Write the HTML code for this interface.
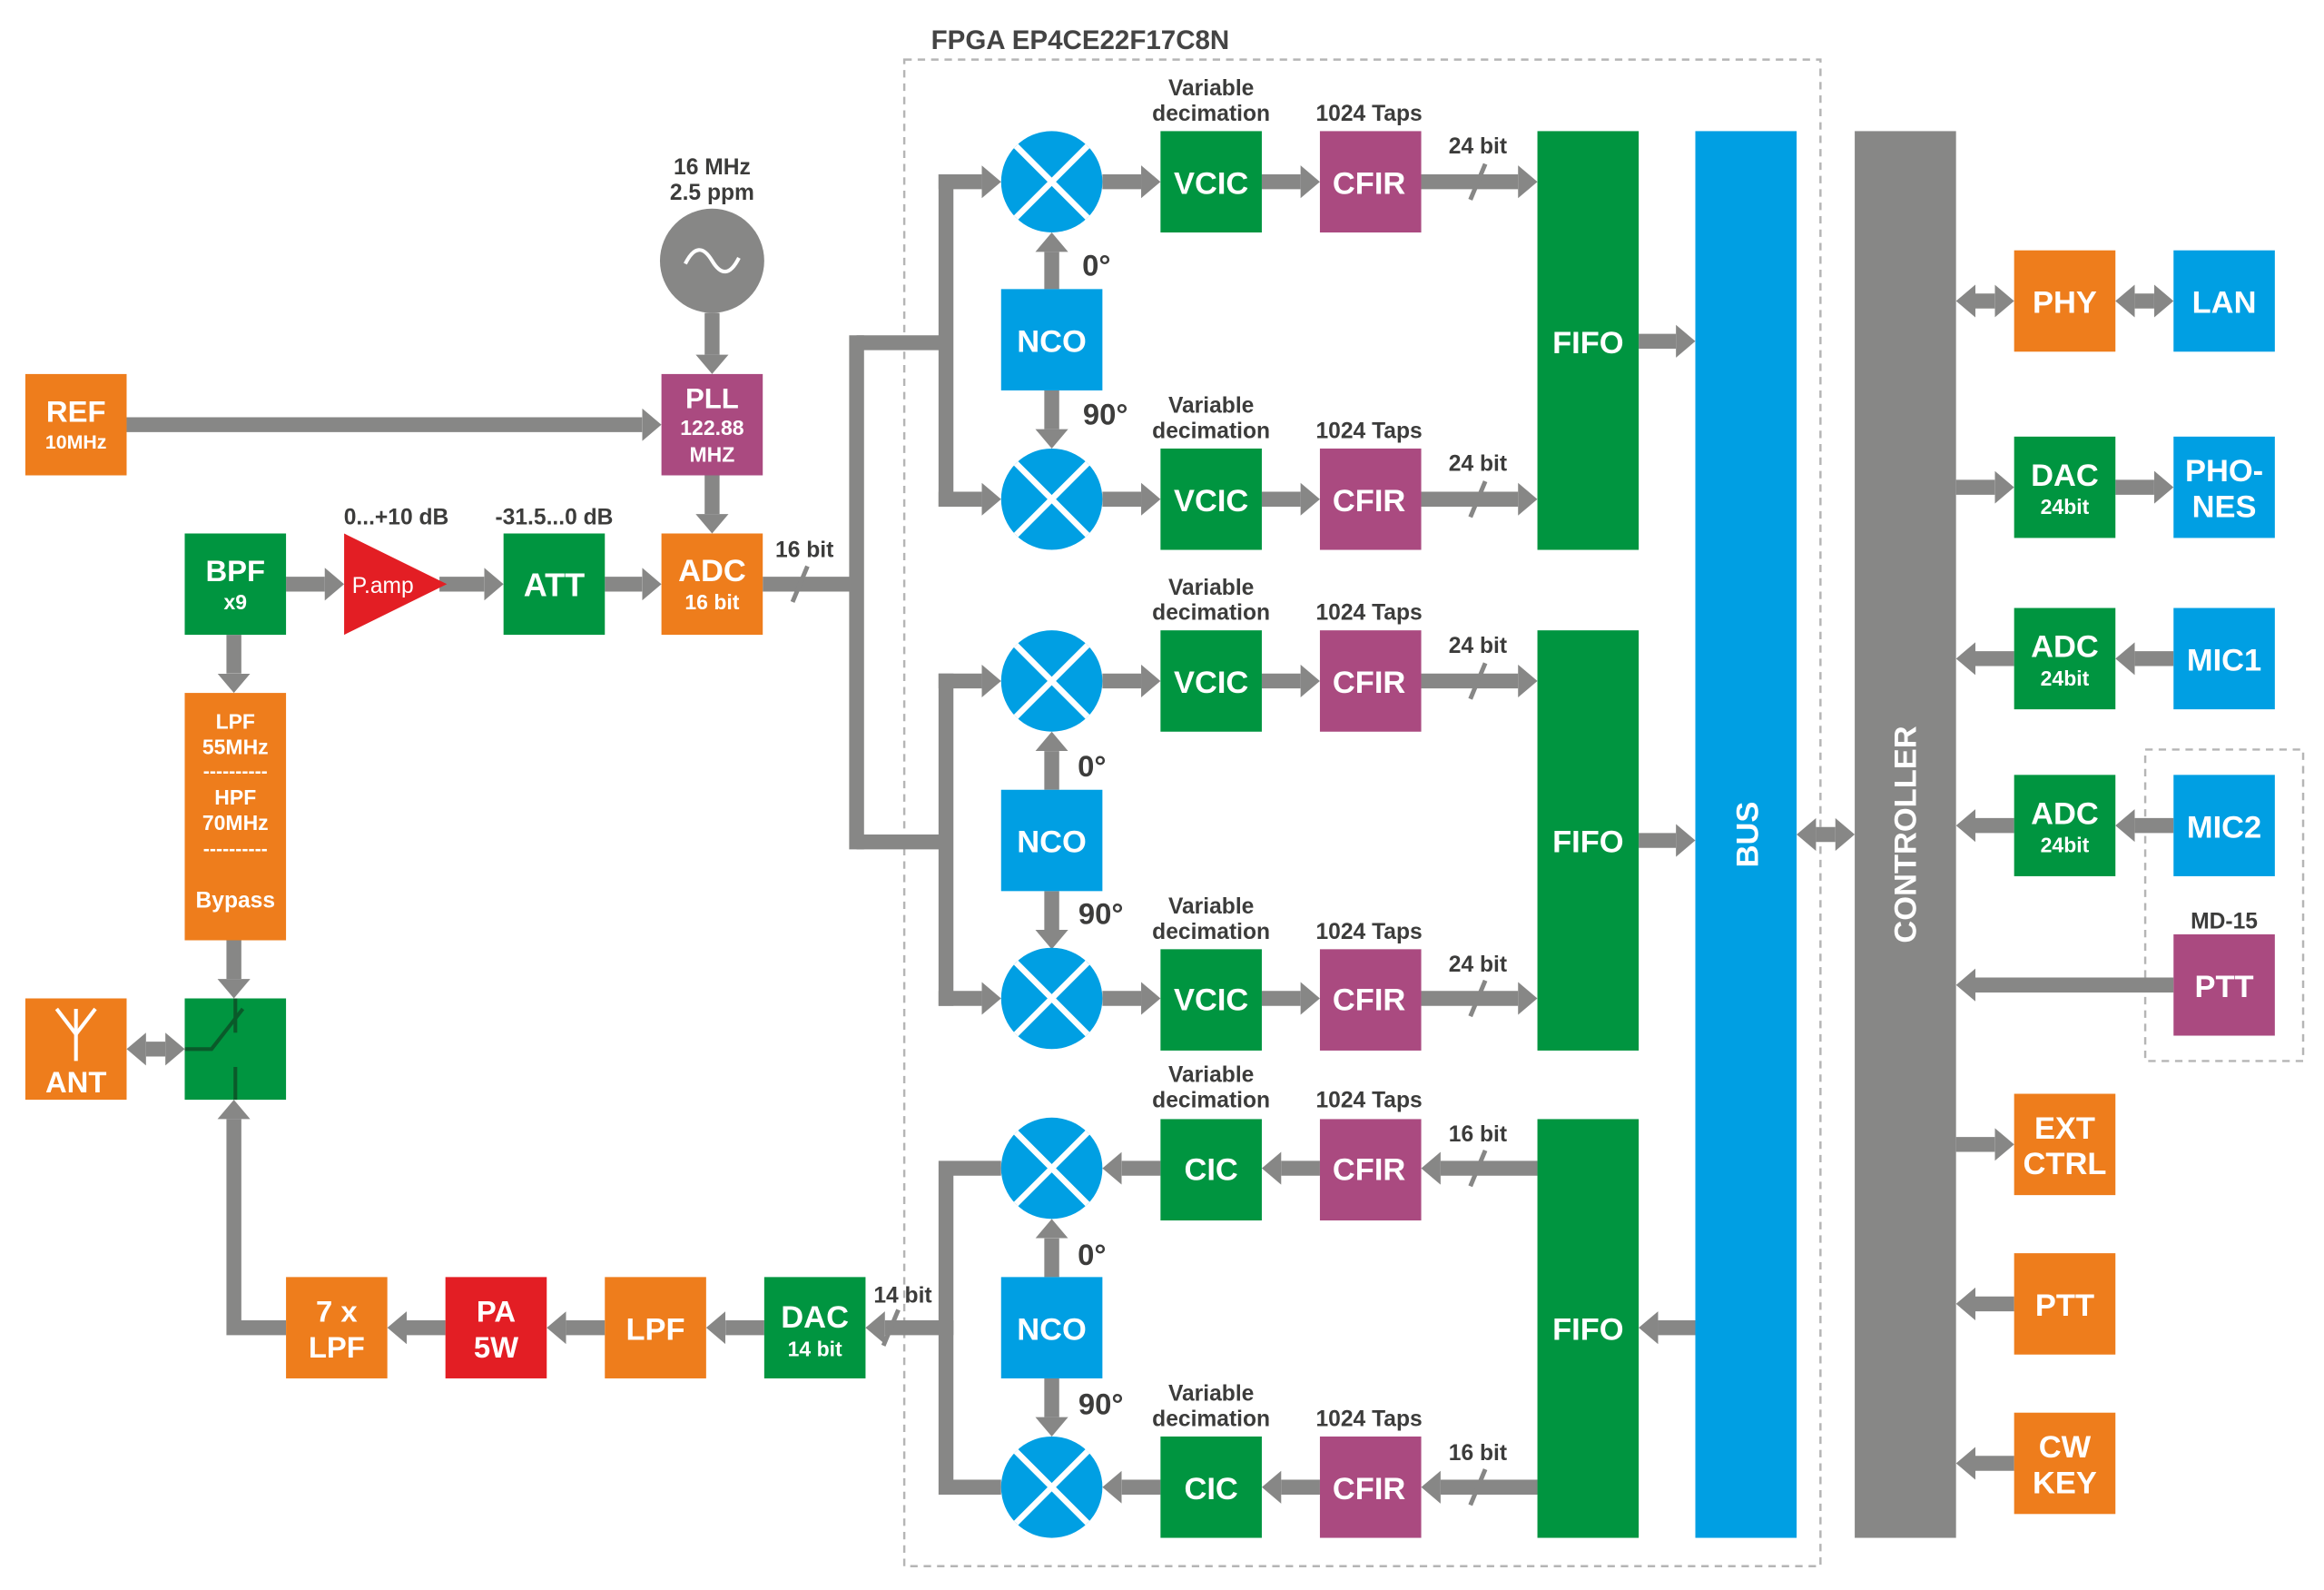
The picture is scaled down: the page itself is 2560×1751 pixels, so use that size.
<!DOCTYPE html>
<html><head><meta charset="utf-8"><style>html,body{margin:0;padding:0;background:#fff}svg{display:block}</style></head>
<body>
<svg width="2560" height="1751" viewBox="0 0 1560 1067" preserveAspectRatio="none" xmlns="http://www.w3.org/2000/svg" font-family="Liberation Sans, Arial, sans-serif" font-weight="bold">
<defs>
<marker id="a" markerWidth="13" markerHeight="22" refX="0" refY="11" orient="auto-start-reverse" markerUnits="userSpaceOnUse"><path d="M0,0L13,11L0,22z" fill="#878786"/></marker>
<g id="mix"><circle r="34" fill="#009FE3"/><path d="M-24,-24L24,24M24,-24L-24,24" stroke="#fff" stroke-width="4"/></g>
</defs>
<rect width="1560" height="1067" fill="#fff"/>
<!-- FPGA box -->
<rect x="607" y="40" width="615" height="1011" fill="none" stroke="#b5b5b5" stroke-width="1.5" stroke-dasharray="5,4"/>
<text x="625" y="33" font-size="18" fill="#444">FPGA EP4CE22F17C8N</text>
<rect x="1440" y="503" width="106" height="209" fill="none" stroke="#b5b5b5" stroke-width="1.5" stroke-dasharray="5,4"/>

<!-- connectors -->
<g stroke="#878786" stroke-width="10" fill="none" marker-end="url(#a)">
<line x1="478" y1="210" x2="478" y2="238"/>
<line x1="85" y1="285" x2="431" y2="285"/>
<line x1="478" y1="319" x2="478" y2="345"/>
<line x1="192" y1="392" x2="218" y2="392"/>
<line x1="295" y1="392" x2="325" y2="392"/>
<line x1="406" y1="392" x2="431" y2="392"/>
<line x1="630" y1="122" x2="659" y2="122"/>
<line x1="630" y1="335" x2="659" y2="335"/>
<line x1="630" y1="457" x2="659" y2="457"/>
<line x1="630" y1="670" x2="659" y2="670"/>
<line x1="740" y1="122" x2="766" y2="122"/><line x1="847" y1="122" x2="873" y2="122"/><line x1="954" y1="122" x2="1019" y2="122"/>
<line x1="740" y1="335" x2="766" y2="335"/><line x1="847" y1="335" x2="873" y2="335"/><line x1="954" y1="335" x2="1019" y2="335"/>
<line x1="740" y1="457" x2="766" y2="457"/><line x1="847" y1="457" x2="873" y2="457"/><line x1="954" y1="457" x2="1019" y2="457"/>
<line x1="740" y1="670" x2="766" y2="670"/><line x1="847" y1="670" x2="873" y2="670"/><line x1="954" y1="670" x2="1019" y2="670"/>
<line x1="1032" y1="784" x2="967" y2="784"/><line x1="886" y1="784" x2="860" y2="784"/><line x1="779" y1="784" x2="753" y2="784"/>
<line x1="1032" y1="998" x2="967" y2="998"/><line x1="886" y1="998" x2="860" y2="998"/><line x1="779" y1="998" x2="753" y2="998"/>
<line x1="706" y1="194" x2="706" y2="169"/><line x1="706" y1="262" x2="706" y2="288"/>
<line x1="706" y1="530" x2="706" y2="504"/><line x1="706" y1="598" x2="706" y2="624"/>
<line x1="706" y1="857" x2="706" y2="831"/><line x1="706" y1="925" x2="706" y2="951"/>
<line x1="640" y1="891" x2="594" y2="891"/>
<line x1="513" y1="891" x2="487" y2="891"/>
<line x1="406" y1="891" x2="380" y2="891"/>
<line x1="299" y1="891" x2="273" y2="891"/>
<polyline points="192,891 157,891 157,751"/>
<line x1="157" y1="426" x2="157" y2="452"/>
<line x1="157" y1="631" x2="157" y2="657"/>
<line x1="98" y1="704" x2="111" y2="704" marker-start="url(#a)"/>
<line x1="1100" y1="229" x2="1125" y2="229"/>
<line x1="1100" y1="564" x2="1125" y2="564"/>
<line x1="1138" y1="891" x2="1113" y2="891"/>
<line x1="1219" y1="560" x2="1232" y2="560" marker-start="url(#a)"/>
<line x1="1326" y1="202" x2="1339" y2="202" marker-start="url(#a)"/>
<line x1="1433" y1="202" x2="1446" y2="202" marker-start="url(#a)"/>
<line x1="1313" y1="327" x2="1339" y2="327"/><line x1="1420" y1="327" x2="1446" y2="327"/>
<line x1="1459" y1="442" x2="1433" y2="442"/><line x1="1352" y1="442" x2="1326" y2="442"/>
<line x1="1459" y1="554" x2="1433" y2="554"/><line x1="1352" y1="554" x2="1326" y2="554"/>
<line x1="1459" y1="661" x2="1326" y2="661"/>
<line x1="1313" y1="768" x2="1339" y2="768"/>
<line x1="1352" y1="875" x2="1326" y2="875"/>
<line x1="1352" y1="982" x2="1326" y2="982"/>
</g>
<g stroke="#878786" stroke-width="10" fill="none">
<line x1="512" y1="392" x2="575" y2="392"/>
<line x1="575" y1="225" x2="575" y2="570"/>
<line x1="575" y1="230" x2="635" y2="230"/><line x1="575" y1="565" x2="635" y2="565"/>
<line x1="635" y1="117" x2="635" y2="340"/><line x1="635" y1="452" x2="635" y2="675"/>
<polyline points="672,784 635,784 635,998 672,998"/>
</g>
<!-- slashes -->
<g stroke="#878786" stroke-width="3">
<line x1="532" y1="404" x2="542" y2="380"/>
<line x1="987" y1="134" x2="997" y2="110"/><line x1="987" y1="347" x2="997" y2="323"/>
<line x1="987" y1="469" x2="997" y2="445"/><line x1="987" y1="682" x2="997" y2="658"/>
<line x1="987" y1="796" x2="997" y2="772"/><line x1="987" y1="1010" x2="997" y2="986"/>
<line x1="593" y1="903" x2="603" y2="879"/>
</g>

<!-- oscillator -->
<circle cx="478" cy="175" r="35" fill="#878786"/>
<path d="M460,177 C466,165 472,165 478,175 C484,185 490,185 496,173" stroke="#fff" stroke-width="2.5" fill="none"/>

<!-- boxes -->
<g>
<rect x="17" y="251" width="68" height="68" fill="#EE7D1C"/>
<rect x="444" y="251" width="68" height="68" fill="#AA4A80"/>
<rect x="124" y="358" width="68" height="68" fill="#009540"/>
<polygon points="231,358 231,426 300,392" fill="#E31E24"/>
<rect x="338" y="358" width="68" height="68" fill="#009540"/>
<rect x="444" y="358" width="68" height="68" fill="#EE7D1C"/>
<rect x="124" y="465" width="68" height="166" fill="#EE7D1C"/>
<rect x="124" y="670" width="68" height="68" fill="#009540"/>
<rect x="17" y="670" width="68" height="68" fill="#EE7D1C"/>
<rect x="192" y="857" width="68" height="68" fill="#EE7D1C"/>
<rect x="299" y="857" width="68" height="68" fill="#E31E24"/>
<rect x="406" y="857" width="68" height="68" fill="#EE7D1C"/>
<rect x="513" y="857" width="68" height="68" fill="#009540"/>
<rect x="672" y="194" width="68" height="68" fill="#009FE3"/>
<rect x="672" y="530" width="68" height="68" fill="#009FE3"/>
<rect x="672" y="857" width="68" height="68" fill="#009FE3"/>
<g fill="#009540"><rect x="779" y="88" width="68" height="68"/><rect x="779" y="301" width="68" height="68"/><rect x="779" y="423" width="68" height="68"/><rect x="779" y="637" width="68" height="68"/><rect x="779" y="751" width="68" height="68"/><rect x="779" y="964" width="68" height="68"/></g>
<g fill="#AA4A80"><rect x="886" y="88" width="68" height="68"/><rect x="886" y="301" width="68" height="68"/><rect x="886" y="423" width="68" height="68"/><rect x="886" y="637" width="68" height="68"/><rect x="886" y="751" width="68" height="68"/><rect x="886" y="964" width="68" height="68"/></g>
<g fill="#009540"><rect x="1032" y="88" width="68" height="281"/><rect x="1032" y="423" width="68" height="282"/><rect x="1032" y="751" width="68" height="281"/></g>
<rect x="1138" y="88" width="68" height="944" fill="#009FE3"/>
<rect x="1245" y="88" width="68" height="944" fill="#878786"/>
<rect x="1352" y="168" width="68" height="68" fill="#EE7D1C"/>
<rect x="1459" y="168" width="68" height="68" fill="#009FE3"/>
<rect x="1352" y="293" width="68" height="68" fill="#009540"/>
<rect x="1459" y="293" width="68" height="68" fill="#009FE3"/>
<rect x="1352" y="408" width="68" height="68" fill="#009540"/>
<rect x="1459" y="408" width="68" height="68" fill="#009FE3"/>
<rect x="1352" y="520" width="68" height="68" fill="#009540"/>
<rect x="1459" y="520" width="68" height="68" fill="#009FE3"/>
<rect x="1459" y="627" width="68" height="68" fill="#AA4A80"/>
<rect x="1352" y="734" width="68" height="68" fill="#EE7D1C"/>
<rect x="1352" y="841" width="68" height="68" fill="#EE7D1C"/>
<rect x="1352" y="948" width="68" height="68" fill="#EE7D1C"/>
</g>
<!-- mixers -->
<use href="#mix" x="706" y="122"/><use href="#mix" x="706" y="335"/><use href="#mix" x="706" y="457"/>
<use href="#mix" x="706" y="670"/><use href="#mix" x="706" y="784"/><use href="#mix" x="706" y="998"/>
<!-- switch -->
<g stroke="#0a5a2a" stroke-width="2.5" fill="none"><polyline points="124,704 142,704 163,677"/><line x1="158" y1="670" x2="158" y2="693"/><line x1="158" y1="716" x2="158" y2="738"/></g>
<!-- antenna -->
<g stroke="#fff" stroke-width="2.5" fill="none"><line x1="51" y1="677" x2="51" y2="712"/><line x1="51" y1="694" x2="38" y2="677"/><line x1="51" y1="694" x2="64" y2="677"/></g>

<!-- white labels -->
<g fill="#fff" text-anchor="middle">
<text x="51" y="283" font-size="20">REF</text><text x="51" y="301" font-size="13">10MHz</text>
<text x="478" y="274" font-size="19">PLL</text><text x="478" y="292" font-size="14">122.88</text><text x="478" y="310" font-size="14">MHZ</text>
<text x="158" y="390" font-size="20">BPF</text><text x="158" y="409" font-size="14">x9</text>
<text x="257" y="398" font-size="15" font-weight="normal" text-anchor="middle">P.amp</text>
<text x="372" y="400" font-size="22">ATT</text>
<text x="478" y="390" font-size="21">ADC</text><text x="478" y="409" font-size="14">16 bit</text>
<text x="158" y="489" font-size="14">LPF</text><text x="158" y="506" font-size="14">55MHz</text>
<text x="158" y="522" font-size="13">----------</text>
<text x="158" y="540" font-size="14">HPF</text><text x="158" y="557" font-size="14">70MHz</text>
<text x="158" y="574" font-size="13">----------</text>
<text x="158" y="609" font-size="15">Bypass</text>
<text x="51" y="733" font-size="20">ANT</text>
<text x="226" y="887" font-size="20">7 x</text><text x="226" y="911" font-size="20">LPF</text>
<text x="333" y="887" font-size="20">PA</text><text x="333" y="911" font-size="20">5W</text>
<text x="440" y="899" font-size="21">LPF</text>
<text x="547" y="891" font-size="21">DAC</text><text x="547" y="910" font-size="14">14 bit</text>
<g font-size="21"><text x="706" y="236">NCO</text><text x="706" y="572">NCO</text><text x="706" y="899">NCO</text>
<text x="813" y="130">VCIC</text><text x="813" y="343">VCIC</text><text x="813" y="465">VCIC</text><text x="813" y="678">VCIC</text><text x="813" y="792">CIC</text><text x="813" y="1006">CIC</text>
<text x="919" y="130">CFIR</text><text x="919" y="343">CFIR</text><text x="919" y="465">CFIR</text><text x="919" y="678">CFIR</text><text x="919" y="792">CFIR</text><text x="919" y="1006">CFIR</text>
<text x="1066" y="237">FIFO</text><text x="1066" y="572">FIFO</text><text x="1066" y="899">FIFO</text>
<text x="1386" y="210">PHY</text><text x="1493" y="210">LAN</text>
<text x="1386" y="326">DAC</text><text x="1493" y="323">PHO-</text><text x="1493" y="347">NES</text>
<text x="1386" y="441">ADC</text><text x="1493" y="450">MIC1</text>
<text x="1386" y="553">ADC</text><text x="1493" y="562">MIC2</text>
<text x="1493" y="669">PTT</text>
<text x="1386" y="764">EXT</text><text x="1386" y="788">CTRL</text>
<text x="1386" y="883">PTT</text>
<text x="1386" y="978">CW</text><text x="1386" y="1002">KEY</text>
<text transform="translate(1180,560) rotate(-90)">BUS</text>
<text transform="translate(1286,560) rotate(-90)">CONTROLLER</text>
</g>
<g font-size="14"><text x="1386" y="345">24bit</text><text x="1386" y="460">24bit</text><text x="1386" y="572">24bit</text></g>
</g>

<!-- dark labels -->
<g fill="#3C3C3B" text-anchor="middle" font-size="15">
<text x="478" y="117">16 MHz</text><text x="478" y="134">2.5 ppm</text>
<text x="266" y="352">0...+10 dB</text><text x="372" y="352">-31.5...0 dB</text>
<text x="540" y="374">16 bit</text>
<text x="606" y="874">14 bit</text>
<text x="1493" y="623">MD-15</text>
<g font-size="20"><text x="736" y="185">0°</text><text x="742" y="285">90°</text><text x="733" y="521">0°</text><text x="739" y="620">90°</text><text x="733" y="849">0°</text><text x="739" y="949">90°</text></g>
<text x="813" y="64">Variable</text><text x="813" y="81">decimation</text><text x="919" y="81">1024 Taps</text><text x="992" y="103">24 bit</text>
<text x="813" y="277">Variable</text><text x="813" y="294">decimation</text><text x="919" y="294">1024 Taps</text><text x="992" y="316">24 bit</text>
<text x="813" y="399">Variable</text><text x="813" y="416">decimation</text><text x="919" y="416">1024 Taps</text><text x="992" y="438">24 bit</text>
<text x="813" y="613">Variable</text><text x="813" y="630">decimation</text><text x="919" y="630">1024 Taps</text><text x="992" y="652">24 bit</text>
<text x="813" y="726">Variable</text><text x="813" y="743">decimation</text><text x="919" y="743">1024 Taps</text><text x="992" y="766">16 bit</text>
<text x="813" y="940">Variable</text><text x="813" y="957">decimation</text><text x="919" y="957">1024 Taps</text><text x="992" y="980">16 bit</text>
</g>
</svg>
</body></html>
